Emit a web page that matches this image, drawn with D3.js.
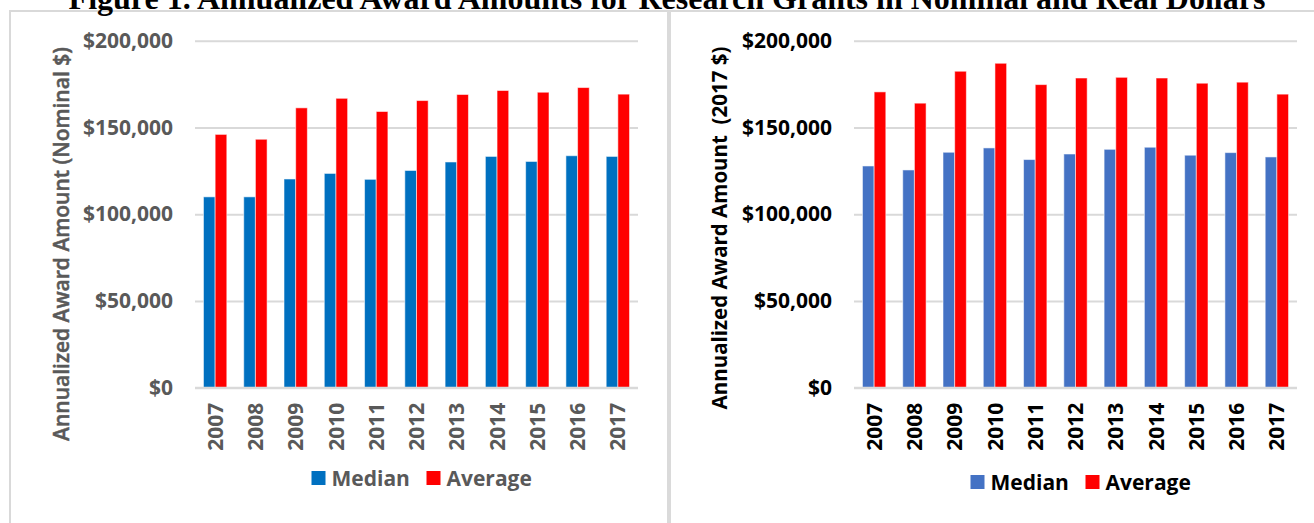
<!DOCTYPE html>
<html>
<head>
<meta charset="utf-8">
<script src="https://cdn.jsdelivr.net/npm/d3@7"></script>
<style>
  body { margin: 0; background: #fff; }
  svg { display: block; }
  .tick-label { font-family: "Open Sans", sans-serif; font-weight: bold; font-size: 21px; }
  .axis-title { font-family: "Open Sans", sans-serif; font-weight: 600; font-size: 21px; white-space: pre; }
  .legend-text { font-family: "Open Sans", sans-serif; font-weight: bold; font-size: 21px; }
</style>
</head>
<body>
<div id="chart"></div>
<script>
// data
var years = ["2007", "2008", "2009", "2010", "2011", "2012", "2013", "2014", "2015", "2016", "2017"];
var seriesNames = ["Median", "Average"];
var nominalMedian = [110000, 110000, 120300, 123500, 120100, 125200, 130100, 133300, 130400, 133700, 133300];
var nominalAverage = [146000, 143200, 161300, 166800, 159200, 165500, 169000, 171300, 170300, 173000, 169200];
var realMedian = [127800, 125500, 135700, 138200, 131500, 134700, 137400, 138600, 134000, 135500, 133000];
var realAverage = [170500, 164000, 182400, 187000, 174700, 178500, 178900, 178500, 175500, 176100, 169200];
var yTicks = [0, 50000, 100000, 150000, 200000];

var width = 1314, height = 523;

var svg = d3.select("#chart")
  .append("svg")
  .attr("width", width)
  .attr("height", height);

// PANEL FRAMES
svg.append("rect")
  .attr("x", 10).attr("y", 11)
  .attr("width", 1400).attr("height", 600)
  .attr("fill", "none")
  .attr("stroke", "#d9d9d9")
  .attr("stroke-width", 2);

svg.append("rect")
  .attr("x", 667).attr("y", 11)
  .attr("width", 4).attr("height", 520)
  .attr("fill", "#dadada");

// TITLE (cut at the top in the original)
svg.append("text")
  .attr("x", 667)
  .attr("y", 9)
  .attr("text-anchor", "middle")
  .style("font-family", "'Liberation Serif', 'Times New Roman', serif")
  .style("font-weight", "bold")
  .style("font-size", "32px")
  .text("Figure 1. Annualized Award Amounts for Research Grants in Nominal and Real Dollars");

function drawChart(cfg) {
  var x0 = d3.scaleBand()
    .domain(years)
    .range([cfg.left, cfg.right])
    .paddingInner(0.42)
    .paddingOuter(0.21);

  var x1 = d3.scaleBand()
    .domain(seriesNames)
    .range([0, x0.bandwidth()]);

  var y = d3.scaleLinear()
    .domain([0, 200000])
    .range([cfg.bottom, cfg.top]);

  var color = d3.scaleOrdinal()
    .domain(seriesNames)
    .range(cfg.colors);

  var g = svg.append("g");

  // GRID
  var yAxis = d3.axisLeft(y)
    .tickValues(yTicks)
    .tickSize(-(cfg.right - cfg.left))
    .tickPadding(22)
    .tickFormat(function (d) { return "$" + d3.format(",")(d); });

  var axisG = g.append("g")
    .attr("transform", `translate(${cfg.left}, 0)`)
    .call(yAxis);
  axisG.select(".domain").remove();
  axisG.selectAll(".tick line")
    .attr("stroke", "#d9d9d9")
    .attr("stroke-width", 2);
  axisG.selectAll(".tick text")
    .attr("class", "tick-label")
    .attr("fill", cfg.textColor)
    .attr("font-family", null)
    .attr("font-size", null);

  // BARS
  var rows = years.map(function (yr, i) {
    return { year: yr, values: [
      { key: "Median", value: cfg.median[i] },
      { key: "Average", value: cfg.average[i] }
    ] };
  });

  g.selectAll(".group")
    .data(rows)
    .enter()
    .append("g")
    .attr("class", "group")
    .attr("transform", function (d) { return `translate(${x0(d.year)}, 0)`; })
    .selectAll("rect")
    .data(function (d) { return d.values; })
    .enter()
    .append("rect")
    .attr("x", function (d) { return x1(d.key); })
    .attr("y", function (d) { return y(d.value); })
    .attr("width", x1.bandwidth())
    .attr("height", function (d) { return y(0) - y(d.value); })
    .attr("fill", function (d) { return color(d.key); })
    .attr("stroke", "#ffffff")
    .attr("stroke-opacity", 0.55)
    .attr("stroke-width", 1);

  // baseline on top of bars
  g.append("line")
    .attr("x1", cfg.left).attr("x2", cfg.right)
    .attr("y1", y(0)).attr("y2", y(0))
    .attr("stroke", "#d9d9d9")
    .attr("stroke-width", 2);

  // X LABELS (rotated)
  g.selectAll(".xlab")
    .data(years)
    .enter()
    .append("text")
    .attr("class", "tick-label")
    .attr("fill", cfg.textColor)
    .attr("text-anchor", "end")
    .attr("dy", "0.36em")
    .attr("transform", function (d) {
      return `translate(${x0(d) + x0.bandwidth() / 2}, ${cfg.bottom + 15}) rotate(-90)`;
    })
    .text(function (d) { return d; });

  // Y TITLE
  g.append("text")
    .attr("class", "axis-title")
    .attr("fill", cfg.textColor)
    .attr("stroke", cfg.titleStroke)
    .attr("stroke-width", 0.5)
    .attr("text-anchor", "middle")
    .attr("dy", "0.35em")
    .attr("transform", `translate(${cfg.titleX}, ${cfg.titleY}) rotate(-90)`)
    .style("font-weight", cfg.titleWeight)
    .style("font-size", cfg.titleSize)
    .text(cfg.yTitle);

  // LEGEND
  var cx = (cfg.left + cfg.right) / 2;
  var legend = g.selectAll(".legend")
    .data(seriesNames)
    .enter()
    .append("g")
    .attr("class", "legend")
    .attr("transform", function (d, i) {
      return `translate(${cx - 105 + i * 115}, ${cfg.legendY})`;
    });

  legend.append("rect")
    .attr("x", 0).attr("y", -7)
    .attr("width", 14).attr("height", 14)
    .attr("fill", function (d) { return color(d); });

  legend.append("text")
    .attr("class", "legend-text")
    .attr("x", 20)
    .attr("dy", "0.36em")
    .attr("fill", cfg.textColor)
    .text(function (d) { return d; });
}

drawChart({
  left: 195, right: 638, top: 40.7, bottom: 387.7,
  median: nominalMedian, average: nominalAverage,
  colors: ["#0070C0", "#FF0000"],
  textColor: "#595959",
  yTitle: "Annualized Award Amount (Nominal $)",
  titleX: 62, titleY: 244, titleWeight: 600, titleSize: "21px", titleStroke: "#595959",
  legendY: 478
});

drawChart({
  left: 854, right: 1297, top: 40.7, bottom: 387.7,
  median: realMedian, average: realAverage,
  colors: ["#4472C4", "#FF0000"],
  textColor: "#000000",
  yTitle: "Annualized Award Amount  (2017 $)",
  titleX: 720, titleY: 228, titleWeight: "bold", titleSize: "20.5px", titleStroke: "none",
  legendY: 482
});
</script>
</body>
</html>
